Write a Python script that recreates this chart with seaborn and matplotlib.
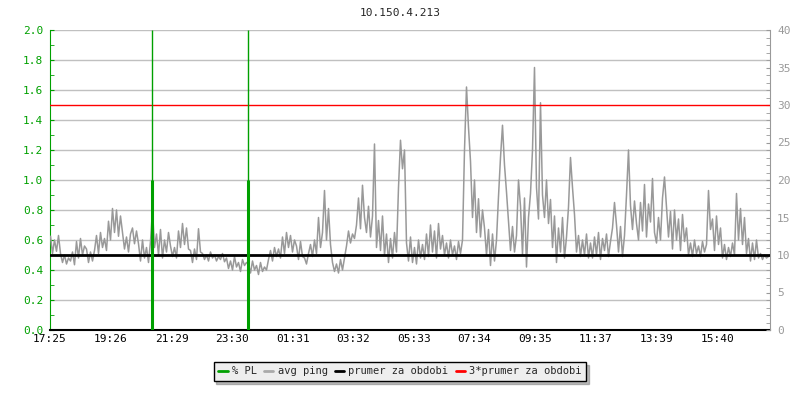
import matplotlib
matplotlib.use("Agg")
import matplotlib.pyplot as plt
import matplotlib.transforms as mtransforms
from matplotlib.lines import Line2D
import numpy as np
import pandas as pd
import seaborn as sns

# ---------------- data ----------------
title = "10.150.4.213"
tick_labels = ["17:25", "19:26", "21:29", "23:30", "01:31", "03:32",
               "05:33", "07:34", "09:35", "11:37", "13:39", "15:40"]
sample_step_min = 4  # minutes between samples

avg_ping = [
    12.5, 10.2, 12.0, 10.5, 12.6,
    10.2, 9.0, 10.0, 8.8, 9.6, 9.2, 10.4, 8.7,
    11.8, 9.6, 12.2, 10.0, 11.2,
    10.8, 9.0, 10.4, 9.2, 10.6,
    12.6, 10.2, 13.0, 11.0, 12.2, 10.6,
    14.5, 12.0, 16.2, 13.0, 16.0, 12.5, 15.2,
    13.0, 10.8, 12.4, 10.4, 12.8,
    13.6, 11.5, 13.2,
    11.5, 9.2, 12.0, 9.6, 11.0, 9.0, 11.8,
    16.0, 11.0,
    12.8, 10.0, 13.4, 9.6, 12.0, 10.4, 13.0,
    11.2, 9.8, 11.0, 9.6,
    13.2, 11.0, 14.2, 11.4, 13.6, 10.8,
    10.6, 9.0, 10.8, 9.4,
    13.5, 10.4,
    10.2, 9.4, 10.0, 9.2, 10.4, 9.6, 10.0, 9.2, 9.8, 9.4, 10.2, 9.1,
    9.6, 8.2, 9.2, 8.0, 9.8, 8.4, 9.0, 7.8, 9.4, 8.6, 9.0,
    8.8, 7.6, 9.2, 8.0, 8.6, 7.4, 9.0, 7.8, 8.4, 8.0,
    9.4, 10.6, 9.2, 11.0, 9.8, 10.8, 9.6,
    12.4, 10.2, 13.0, 11.0, 12.6, 10.4, 12.0,
    11.2, 9.4, 11.8, 9.8,
    9.6, 8.8, 10.2,
    11.4, 9.8, 12.0, 10.2,
    15.0, 11.0,
    13.0, 18.6, 12.0, 16.2, 11.4,
    9.0, 7.8, 8.8, 7.6, 9.4, 8.0, 9.6,
    11.2, 13.2, 11.6, 12.8, 12.2,
    14.0, 17.6, 13.5, 19.3, 15.0,
    13.0, 16.5, 12.4, 15.2,
    24.8,
    11.0, 14.6, 10.6,
    15.2,
    10.0, 12.8, 9.0, 12.2, 9.6, 13.0, 10.4,
    19.0, 25.3, 21.5, 24.0,
    11.6, 9.2, 12.4, 9.0, 11.0, 8.8, 12.0, 9.6, 11.4, 9.4,
    12.8, 9.8, 14.0, 10.4, 13.2, 9.6, 14.2, 10.8, 12.6, 10.0,
    11.6, 9.6, 12.0, 10.0, 11.2, 9.4, 11.8, 10.2, 12.0,
    24.0, 32.4, 27.0,
    22.5, 15.0, 20.0,
    13.0, 17.5, 12.4, 16.0, 13.6,
    10.0, 13.4, 8.6, 12.8, 9.2, 12.0,
    17.8, 23.0, 27.3, 22.0, 18.4,
    14.4, 10.6, 13.8, 10.4, 12.6,
    20.0, 16.5,
    10.0, 17.6, 8.4,
    15.0, 18.2, 24.0,
    35.0,
    19.0, 14.8,
    30.3, 18.0,
    15.0, 20.0, 14.2, 17.4,
    11.0, 15.2, 9.0, 13.6, 10.4, 15.0, 9.6, 12.4,
    16.4, 23.0, 19.0, 15.4,
    10.4, 12.6, 9.8, 12.0, 10.0, 12.8, 9.6, 11.6,
    9.6, 12.4, 10.0, 13.0, 9.4, 12.2, 10.6, 12.8, 9.8, 11.8,
    13.6, 17.0, 14.0,
    10.4, 13.8, 9.8, 12.6,
    18.0, 24.0, 16.6,
    13.4, 17.2, 14.2,
    12.0, 17.0, 13.2, 19.4, 12.4, 16.8,
    14.4, 20.2, 13.0,
    11.6, 15.0, 12.0,
    17.6, 20.4, 16.4,
    12.4, 15.8, 10.8, 16.0, 12.0, 14.8, 10.6, 15.4, 11.8, 13.6,
    10.0, 11.6, 9.8, 12.0, 10.2, 11.2, 9.8, 11.8, 10.4, 11.4,
    18.6, 13.4,
    14.8, 10.6, 15.2, 11.4, 13.6,
    9.6, 11.4, 9.4, 11.0, 9.8, 11.6, 10.0,
    18.2,
    12.0, 16.2, 11.4, 15.0,
    10.2, 12.2, 9.2, 11.6, 9.4, 12.0,
    9.6, 10.2, 9.4, 10.0, 9.6, 9.8,
]

pl_times = ["20:49", "00:01"]     # packet-loss events
pl_values = [1.0, 1.0]            # % PL (left axis)
mean_ping = 10.0                  # prumer za obdobi (ms)
triple_mean = 3 * mean_ping       # 3*prumer za obdobi

# ---------------- helpers ----------------
def to_min(label, start="17:25"):
    h, m = map(int, label.split(":"))
    sh, sm = map(int, start.split(":"))
    d = (h * 60 + m) - (sh * 60 + sm)
    return d % 1440

t = np.arange(len(avg_ping)) * sample_step_min + 1
df = pd.DataFrame({"t": t, "ping": avg_ping})
tick_pos = [to_min(l) for l in tick_labels]
pl_pos = [to_min(l) for l in pl_times]

# ---------------- figure ----------------
sns.set_style("white")
mono = ["DejaVu Sans Mono"]
plt.rcParams["font.family"] = mono

fig = plt.figure(figsize=(8, 4), dpi=100)
ax = fig.add_axes([50 / 800, 1 - 330 / 400, 720 / 800, 300 / 400])
ax2 = ax.twinx()

GREEN = "#00a000"
GRAY = "#999999"

# left axis
ax.set_xlim(0, 1440)
ax.set_ylim(0, 2.0)
ax.set_yticks(np.arange(0, 2.01, 0.2))
ax.set_yticklabels([f"{v:.1f}" for v in np.arange(0, 2.01, 0.2)])
ax.set_yticks(np.arange(0.1, 2.0, 0.2), minor=True)
ax.grid(axis="y", color="#c0c0c0", lw=1)
ax.grid(axis="x", visible=False)
ax.tick_params(axis="y", which="both", direction="in", length=3, color=GREEN,
               labelcolor=GREEN, labelsize=8, pad=5)
ax.set_xticks(tick_pos)
ax.set_xticklabels(tick_labels)
ax.tick_params(axis="x", direction="in", length=5, color="black",
               labelsize=8, pad=3, labelcolor="black")
for s in ["top", "right"]:
    ax.spines[s].set_visible(False)
ax.spines["left"].set_color(GREEN)
ax.spines["bottom"].set_color("black")
ax.spines["bottom"].set_linewidth(1.5)

# right axis
ax2.set_ylim(0, 40)
ax2.set_yticks(np.arange(0, 41, 5))
ax2.set_yticks(np.arange(0, 41, 1), minor=True)
ax2.tick_params(axis="y", which="both", direction="in", length=3, color=GRAY,
                labelcolor=GRAY, labelsize=8, pad=5)
for s in ["top", "left", "bottom"]:
    ax2.spines[s].set_visible(False)
ax2.spines["right"].set_color(GRAY)

# avg ping
sns.lineplot(data=df, x="t", y="ping", ax=ax2, color=GRAY, lw=1.1, legend=False)
ax2.set_xlabel("")
ax2.set_ylabel("")
ax.set_xlabel("")
ax.set_ylabel("")

# mean lines
ax2.axhline(triple_mean, color="#ff0000", lw=1, zorder=3)
ax2.axhline(mean_ping, color="black", lw=2, zorder=4)

# PL lines (left-axis units)
tr = mtransforms.blended_transform_factory(ax2.transData, ax.transData)
ax2.vlines(pl_pos, 0, 2.0, colors=GREEN, lw=1, transform=tr, zorder=5)
ax2.vlines(pl_pos, 0, pl_values, colors=GREEN, lw=2.2, transform=tr, zorder=6)
ax2.set_xlim(0, 1440)

fig.text(0.5, 1 - 13 / 400, title, ha="center", va="center", fontsize=8)

handles = [Line2D([], [], color=GREEN, lw=2),
           Line2D([], [], color="#aaaaaa", lw=2),
           Line2D([], [], color="black", lw=2),
           Line2D([], [], color="#ff0000", lw=2)]
labels = ["% PL", "avg ping", "prumer za obdobi", "3*prumer za obdobi"]
leg = fig.legend(handles, labels, loc="center", bbox_to_anchor=(0.5, 1 - 371.5 / 400),
                 ncol=4, frameon=True, fancybox=False, shadow={"color": "#777777"},
                 edgecolor="black", facecolor="#eeeeee", framealpha=1,
                 fontsize=7.5, handlelength=0.9, handletextpad=0.4,
                 columnspacing=0.7, borderpad=0.45, borderaxespad=0)
leg.get_frame().set_linewidth(1)

fig.savefig("out.png", dpi=100)
